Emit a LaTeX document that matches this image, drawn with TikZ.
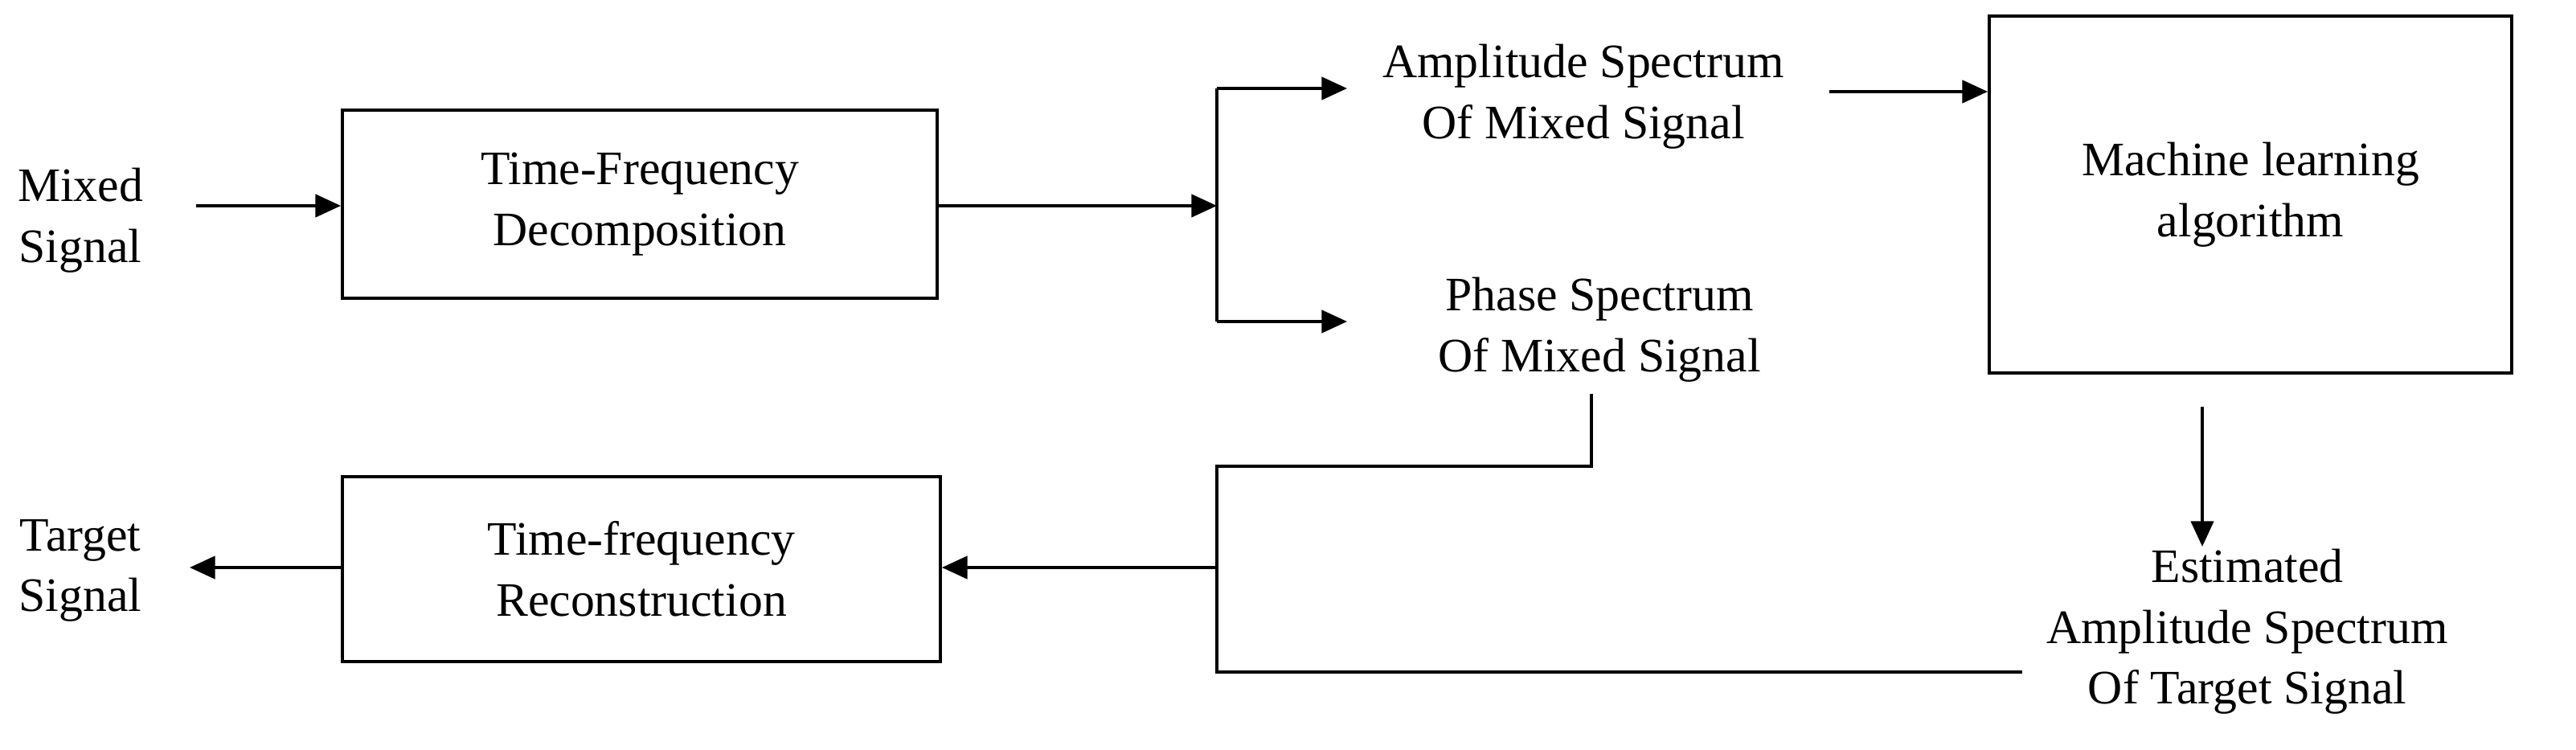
\documentclass[tikz,border=0pt]{standalone}
\usepackage{fontspec}
\setmainfont{Liberation Serif}
\usetikzlibrary{arrows.meta}

\begin{document}
\begin{tikzpicture}[
    x=0.02cm, y=-0.02cm,
    line width=1.1pt,
    blk/.style={draw, line width=1.1pt},
    lbl/.style={align=center, font=\fontsize{17}{21.5}\selectfont},
    arr/.style={-{Triangle[length=9pt,width=8pt]}}
    ]
    \useasboundingbox (0,0) rectangle (1602.5,466.5);

    % inputs and outputs
    \node[lbl] (mixed) at (50,137) {Mixed\\Signal};
    \node[lbl] (target) at (50,355) {Target\\Signal};

    % blocks
    \node[blk, lbl, minimum width=370*0.02cm, minimum height=117*0.02cm] (tfd) at (398,127) {Time-Frequency\\Decomposition};
    \node[blk, lbl, minimum width=372*0.02cm, minimum height=115*0.02cm] (tfr) at (399,354) {Time-frequency\\Reconstruction};
    \node[blk, lbl, minimum width=325*0.02cm, minimum height=222*0.02cm] (ml) at (1400,121) {Machine learning\\algorithm};

    % spectra
    \node[lbl] (amp) at (985,60) {Amplitude Spectrum\\Of Mixed Signal};
    \node[lbl] (phase) at (995,205) {Phase Spectrum\\Of Mixed Signal};
    \node[lbl] (est) at (1398,393) {Estimated\\Amplitude Spectrum\\Of Target Signal};

    % junctions
    \coordinate (split) at (757,128);
    \coordinate (merge) at (757,353);

    \draw[arr] (122,128) -- (tfd.west |- 0,128);
    \draw[arr] (tfd.east |- 0,128) -- (split);
    \draw (757,55) -- (757,200);
    \draw[arr] (757,55) -- (838,55);
    \draw[arr] (757,200) -- (838,200);
    \draw[arr] (1138,57) -- (ml.west |- 0,57);
    \draw[arr] (1370,253) -- (1370,340);
    \draw (990,245) -- (990,290) -- (757,290) -- (757,418) -- (1258,418);
    \draw[arr] (merge) -- (tfr.east |- 0,353);
    \draw[arr] (tfr.west |- 0,353) -- (118,353);
\end{tikzpicture}
\end{document}
